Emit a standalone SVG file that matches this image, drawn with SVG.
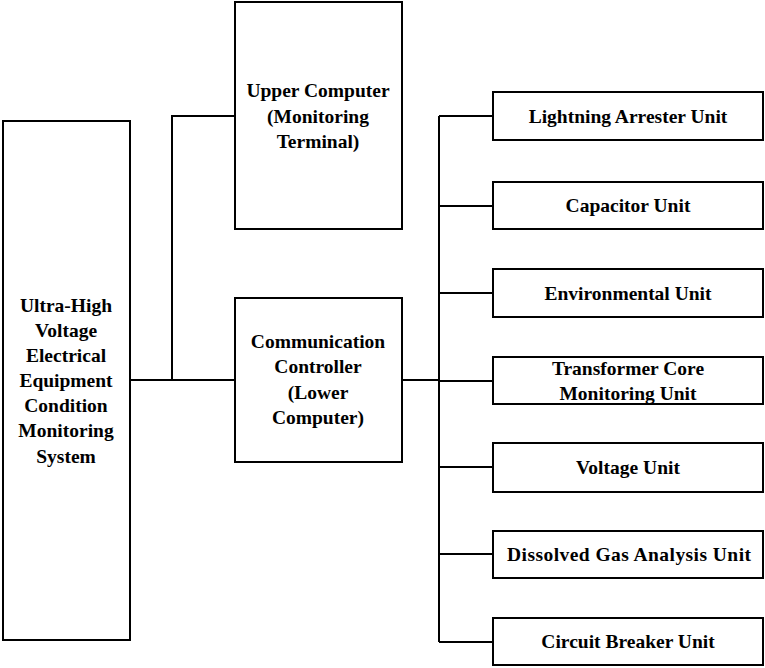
<svg xmlns="http://www.w3.org/2000/svg" width="765" height="668" viewBox="0 0 765 668">
<style>
rect{fill:#fff;stroke:#000;stroke-width:2}
.c path{fill:none;stroke:#000;stroke-width:2}
text{font-family:"Liberation Serif","Times New Roman",serif;font-weight:bold;font-size:19.5px;text-anchor:middle;fill:#000}
</style>
<rect x="0" y="0" width="765" height="668" style="stroke:none"/>
<g class="c" id="connectors">
<path d="M130 380H235"/>
<path d="M172 380V116H235"/>
<path d="M402 380H439"/>
<path d="M439 116V642"/>
<path d="M439 116H493M439 206H493M439 293H493M439 381H493M439 467H493M439 554H493M439 642H493"/>
</g>
<g id="system"><rect x="3" y="121" width="127" height="519"/>
<text x="66" y="312">Ultra-High</text><text x="66" y="337">Voltage</text><text x="66" y="362">Electrical</text><text x="66" y="387">Equipment</text><text x="66" y="412">Condition</text><text x="66" y="437">Monitoring</text><text x="66" y="463">System</text></g>
<g id="upper"><rect x="235" y="2" width="167" height="227"/>
<text x="318" y="97">Upper Computer</text><text x="318" y="123">(Monitoring</text><text x="318" y="148">Terminal)</text></g>
<g id="comm"><rect x="235" y="298" width="167" height="164"/>
<text x="318" y="348">Communication</text><text x="318" y="373">Controller</text><text x="318" y="399">(Lower</text><text x="318" y="424">Computer)</text></g>
<g id="lightning"><rect x="493" y="92" width="270" height="48"/><text x="628" y="123">Lightning Arrester Unit</text></g>
<g id="capacitor"><rect x="493" y="182" width="270" height="47"/><text x="628" y="212">Capacitor Unit</text></g>
<g id="environmental"><rect x="493" y="269" width="270" height="48"/><text x="628" y="300">Environmental Unit</text></g>
<g id="transformer"><rect x="493" y="357" width="270" height="47"/><text x="628" y="375">Transformer Core</text><text x="628" y="400">Monitoring Unit</text></g>
<g id="voltage"><rect x="493" y="443" width="270" height="49"/><text x="628" y="474">Voltage Unit</text></g>
<g id="dga"><rect x="493" y="531" width="270" height="47"/><text x="629" y="561" textLength="244" lengthAdjust="spacing">Dissolved Gas Analysis Unit</text></g>
<g id="breaker"><rect x="493" y="618" width="270" height="47"/><text x="628" y="648">Circuit Breaker Unit</text></g>
</svg>
